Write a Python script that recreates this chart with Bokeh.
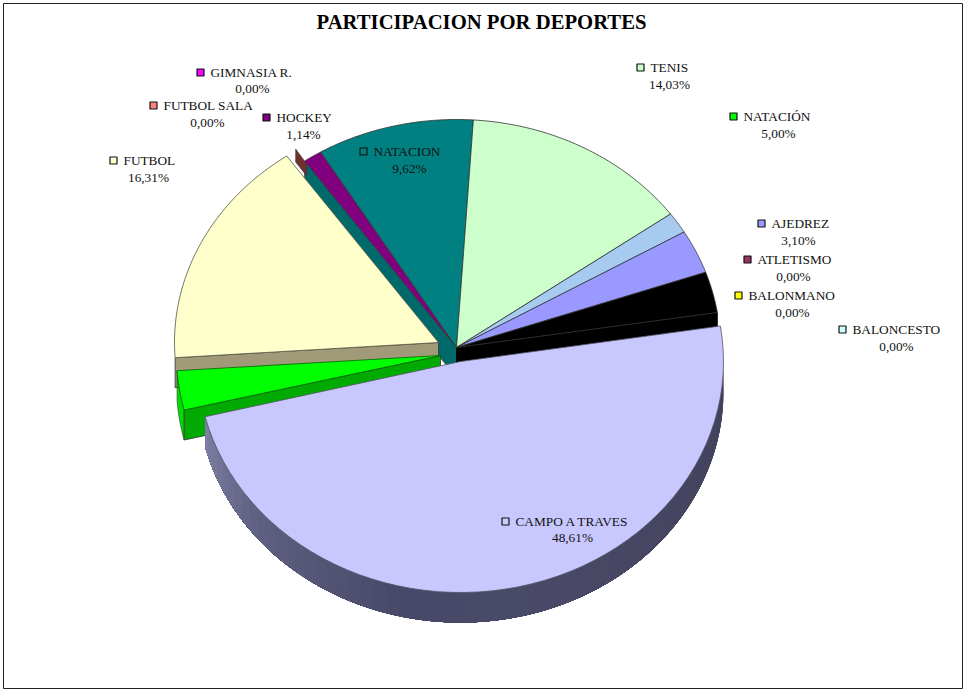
import numpy as np
from bokeh.plotting import figure
from bokeh.models import Range1d
from bokeh.core.properties import value
from bokeh.embed import file_html
from bokeh.resources import INLINE

# slices in drawing order round the pie, shares
slice_names = ["NATACION", "TENIS", "(sin rotulo)", "AJEDREZ", "(negro)", "CAMPO A TRAVES", "NATACION2", "FUTBOL", "HOCKEY"]
slice_shares = [9.62, 14.03, 1.5, 3.10, 2.9, 48.61, 2.78, 16.31, 1.14]
slice_colors = ["#008080", "#CCFFCC", "#A6CAF0", "#9999FF", "#000000", "#C8C8FF", "#00FF00", "#FFFFCC", "#800080"]

# legend-style labels
label_names = ["GIMNASIA R.", "FUTBOL SALA", "HOCKEY", "FUTBOL", "NATACION", "TENIS", "NATACIÓN",
               "AJEDREZ", "ATLETISMO", "BALONMANO", "BALONCESTO", "CAMPO A TRAVES"]
label_pcts = ["0,00%", "0,00%", "1,14%", "16,31%", "9,62%", "14,03%", "5,00%",
              "3,10%", "0,00%", "0,00%", "0,00%", "48,61%"]
label_colors = ["#FF00FF", "#FF8080", "#800080", "#FFFFCC", "#008080", "#CCFFCC", "#00FF00",
                "#9999FF", "#993366", "#FFFF00", "#CCFFFF", "#CCCCFF"]

# layout
LABEL_MARK = [(200, 72), (153, 105), (266, 117), (113, 160), (363, 151), (640, 67), (733, 116),
              (761, 223), (747, 259), (738, 295), (842, 329), (505, 521)]
LABEL_PCT = [(252, 88), (207, 122), (303, 134), (148, 177), (409, 168), (669, 84), (778, 133),
             (798, 240), (793, 276), (792, 312), (896, 346), (572, 537)]
FIRST_ANGLE = -30.97
RX, RY, DEPTH = 264, 228, 30
CENTER = (456, 347)
CENTERS = {"CAMPO A TRAVES": (460, 361), "FUTBOL": (438, 342), "NATACION2": (440, 355)}
RADII = {"CAMPO A TRAVES": (263, 231)}

# rim wall shading of the campo slice: stops along the rim, from its right end to its left end
SHADE_POS = [0.0, 0.45, 0.62, 0.85, 1.0]
SHADE_R = [66, 74, 72, 96, 125]
SHADE_B = [92, 104, 104, 130, 165]

p = figure(width=966, height=690, output_backend="svg", toolbar_location=None,
           x_range=Range1d(0, 966), y_range=Range1d(690, 0), min_border=0,
           styles={"position": "absolute", "left": "0px", "top": "0px"})
p.axis.visible = False
p.grid.visible = False
p.outline_line_color = None
p.background_fill_color = "white"

p.patch([3, 962, 962, 3], [3, 3, 688, 688], fill_color="white", line_color="#222222", line_width=1)

edges = np.concatenate([[0], np.cumsum(slice_shares)]) * 3.6 + FIRST_ANGLE
slices = {n: (edges[i], edges[i + 1], slice_colors[i]) for i, n in enumerate(slice_names)}


def rim(name, a0, a1, n=60):
    cx, cy = CENTERS.get(name, CENTER)
    rx, ry = RADII.get(name, (RX, RY))
    t = np.radians(np.linspace(a0, a1, n))
    return cx + rx * np.sin(t), cy - ry * np.cos(t)


def top(name, line="#333333"):
    a0, a1, col = slices[name]
    cx, cy = CENTERS.get(name, CENTER)
    xs, ys = rim(name, a0, a1)
    p.patch(np.r_[cx, xs], np.r_[cy, ys], fill_color=col, line_color=line, line_width=0.8)


def radial_wall(name, angle, color, line="#333333"):
    cx, cy = CENTERS.get(name, CENTER)
    xs, ys = rim(name, angle, angle, 1)
    p.patch([cx, xs[0], xs[0], cx], [cy, ys[0], ys[0] + DEPTH, cy + DEPTH],
            fill_color=color, line_color=line, line_width=0.8)


# dark wall of the central group, seen where the exploded slices left
radial_wall("HOCKEY", slices["HOCKEY"][0], "#006A6A")
hx, hy = rim("HOCKEY", slices["HOCKEY"][0], slices["HOCKEY"][0], 1)
p.patch([hx[0] - 9, hx[0] + 2, hx[0] + 2, hx[0] - 9], [hy[0] - 12, hy[0] + 3, hy[0] + 15, hy[0] + 1],
        fill_color="#703030", line_color="#333333", line_width=0.6)
radial_wall("(negro)", slices["(negro)"][1], "#000000", "#000000")

for name in ["HOCKEY", "NATACION", "TENIS", "(sin rotulo)", "AJEDREZ", "(negro)"]:
    top(name)

# exploded football slice
radial_wall("FUTBOL", slices["FUTBOL"][0], "#A09A78")
top("FUTBOL", "#555544")

# exploded green slice
a0, a1, _ = slices["NATACION2"]
gx, gy = rim("NATACION2", a0, a1, 12)
p.patch(np.r_[gx, gx[::-1]], np.r_[gy, gy[::-1] + DEPTH], fill_color="#00E000", line_color="#333333", line_width=0.6)
radial_wall("NATACION2", a0, "#00AA00")
top("NATACION2", "#006600")

# exploded campo slice: rim wall shaded along the rim, each band running on under the next
a0, a1, _ = slices["CAMPO A TRAVES"]
steps = np.linspace(max(a0, 88), a1, 60)
for i in range(len(steps) - 1):
    xs, ys = rim("CAMPO A TRAVES", steps[i], a1, 80)
    f = i / (len(steps) - 2)
    r = np.interp(f, SHADE_POS, SHADE_R)
    b = np.interp(f, SHADE_POS, SHADE_B)
    col = "#%02x%02x%02x" % (int(r), int(r), int(b))
    p.patch(np.r_[xs, xs[::-1]], np.r_[ys, ys[::-1] + DEPTH], fill_color=col, line_color=None)
top("CAMPO A TRAVES", "#555566")

# title and labels
font = value("Liberation Serif")
p.text([481], [21], text=["PARTICIPACION POR DEPORTES"], text_font=font, text_font_style="bold",
       text_font_size="20.7px", text_align="center", text_baseline="middle", text_color="#000000")
for nm, pct, col, (mx, my), (px, py) in zip(label_names, label_pcts, label_colors, LABEL_MARK, LABEL_PCT):
    p.square([mx], [my], size=7, fill_color=col, line_color="#111111", line_width=1.2)
    p.text([mx + 10], [my], text=[nm], text_font=font, text_font_size="13.3px", text_align="left",
           text_baseline="middle", text_color="#111111")
    p.text([px], [py], text=[pct], text_font=font, text_font_size="13.3px", text_align="center",
           text_baseline="middle", text_color="#111111")

open("out.html", "w").write(file_html(p, INLINE))
